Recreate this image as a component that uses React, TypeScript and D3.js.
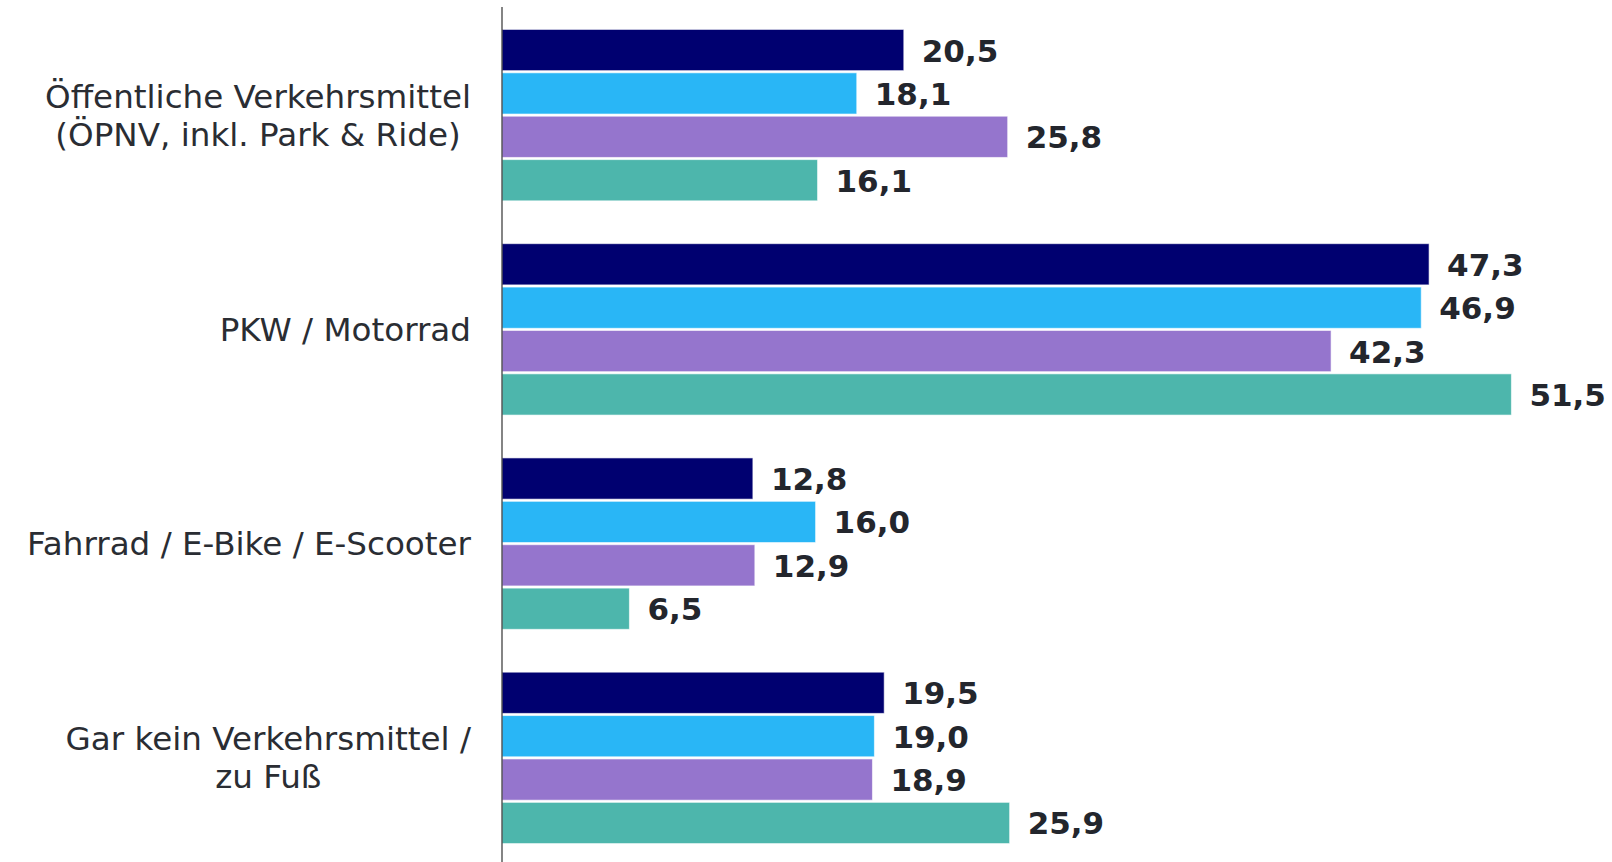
import React, { useEffect, useRef } from "react";
import * as d3 from "d3";

const categories: string[][] = [
  ["Öffentliche Verkehrsmittel", "(ÖPNV, inkl. Park & Ride)"],
  ["PKW / Motorrad"],
  ["Fahrrad / E-Bike / E-Scooter"],
  ["Gar kein Verkehrsmittel /", "zu Fuß"],
];
const seriesNames = ["S1", "S2", "S3", "S4"];
const series1 = [20.5, 47.3, 12.8, 19.5];
const series2 = [18.1, 46.9, 16.0, 19.0];
const series3 = [25.8, 42.3, 12.9, 18.9];
const series4 = [16.1, 51.5, 6.5, 25.9];
const seriesValues = [series1, series2, series3, series4];
const colors = ["#000070", "#29b6f6", "#9575cd", "#4db6ac"];

const W = 1612;
const H = 862;

export default function App() {
  const ref = useRef<SVGSVGElement | null>(null);

  useEffect(() => {
    document.body.style.margin = "0";
    const svg = d3.select(ref.current);
    svg.selectAll("*").remove();

    const axisX = 502;
    const x = d3.scaleLinear().domain([0, 55]).range([axisX, axisX + 55 * 19.6]);
    const catIdx = categories.map((_, i) => String(i));
    const y0 = d3.scaleBand<string>().domain(catIdx).range([8, 865]).paddingInner(0.2).paddingOuter(0.1);
    const y1 = d3.scaleBand<string>().domain(seriesNames).range([0, y0.bandwidth()]).paddingInner(0.05);
    const fmt = (v: number) => d3.format(".1f")(v).replace(".", ",");

    const groups = svg
      .selectAll("g.grp")
      .data(categories)
      .enter()
      .append("g")
      .attr("class", "grp")
      .attr("transform", (_, i) => `translate(0,${y0(String(i))})`);

    seriesNames.forEach((s, si) => {
      groups
        .append("rect")
        .attr("x", x(0))
        .attr("y", y1(s)!)
        .attr("width", (_, i) => x(seriesValues[si][i]) - x(0))
        .attr("height", y1.bandwidth())
        .attr("fill", colors[si])
        .attr("stroke", "rgba(255,255,255,0.6)")
        .attr("stroke-width", 1);
      groups
        .append("text")
        .attr("x", (_, i) => x(seriesValues[si][i]) + 18)
        .attr("y", y1(s)! + y1.bandwidth() / 2)
        .attr("dy", "0.37em")
        .attr("font-family", "'DejaVu Sans', Verdana, sans-serif")
        .attr("font-weight", "bold")
        .attr("font-size", 31)
        .attr("fill", "#23262d")
        .text((_, i) => fmt(seriesValues[si][i]));
    });

    // category labels
    const labelRight = 471;
    const lineH = 38;
    categories.forEach((lines, i) => {
      const cy = y0(String(i))! + y0.bandwidth() / 2;
      const t = svg
        .append("text")
        .attr("font-family", "'DejaVu Sans', Verdana, sans-serif")
        .attr("font-size", 32.6)
        .attr("fill", "#2a2d33");
      const tspans = lines.map((ln, li) =>
        t
          .append("tspan")
          .attr("y", cy + (li - (lines.length - 1) / 2) * lineH)
          .attr("dy", "0.35em")
          .text(ln)
      );
      const widths = tspans.map((ts) => (ts.node() as SVGTSpanElement).getComputedTextLength());
      const maxW = Math.max(...widths);
      const center = labelRight - maxW / 2;
      tspans.forEach((ts) => ts.attr("x", center).attr("text-anchor", "middle"));
    });

    // axis line
    svg
      .append("line")
      .attr("x1", axisX)
      .attr("x2", axisX)
      .attr("y1", 7)
      .attr("y2", H)
      .attr("stroke", "#333")
      .attr("stroke-width", 1.2);
  }, []);

  return <svg ref={ref} width={W} height={H} style={{ display: "block", background: "#fff" }} />;
}
